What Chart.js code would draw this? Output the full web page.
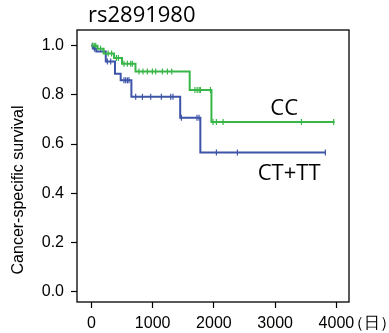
<!DOCTYPE html>
<html><head><meta charset="utf-8">
<script src="https://cdn.jsdelivr.net/npm/chart.js@4"></script>
<style>html,body{margin:0;padding:0;background:#fff}#wrap{width:389px;height:333px}</style>
</head><body><div id="wrap"><canvas id="c" width="389" height="333"></canvas></div>
<script>
const title = "rs2891980";
const yTitle = "Cancer-specific survival";
const xUnit = "（日）";
const xTicks = [0, 1000, 2000, 3000, 4000];
const yTicks = [0.0, 0.2, 0.4, 0.6, 0.8, 1.0];

const ccLabel = "CC";
const ccTimes = [0, 100, 200, 370, 500, 720, 1605, 1960, 3970];
const ccSurv  = [1.0, 0.988, 0.968, 0.950, 0.927, 0.895, 0.820, 0.690, 0.690];
const ccCensor = [20, 45, 70, 150, 274, 330, 408, 441, 532, 588, 642, 669, 777, 842, 914, 996, 1050, 1159, 1241, 1311, 1690, 1727, 1760, 1780, 1943, 1986, 2041, 2150, 3429, 3956];

const ctLabel = "CT+TT";
const ctTimes = [0, 30, 80, 235, 385, 478, 653, 1450, 1779, 3820];
const ctSurv  = [1.0, 0.988, 0.977, 0.936, 0.886, 0.859, 0.792, 0.707, 0.565, 0.565];
const ctCensor = [15, 50, 261, 315, 532, 560, 588, 614, 723, 833, 968, 1143, 1295, 1332, 1469, 1724, 1757, 2041, 2384, 3820];

const green = "rgb(56,182,72)";
const blue = "rgb(62,84,168)";

function stepAt(times, surv, t){ let s = surv[0]; for (let i=0;i<times.length;i++){ if (times[i] <= t) s = surv[i]; } return s; }
const pts = (ts, ss) => ts.map((t,i)=>({x:t, y:ss[i]}));
const cens = (cs, ts, ss) => cs.map(t=>({x:t, y:stepAt(ts, ss, t)}));

const deco = {
  id: 'deco',
  afterDraw(chart){
    const {ctx, chartArea:a, scales:{x, y}} = chart;
    ctx.save();
    ctx.strokeStyle = '#000'; ctx.lineWidth = 1.3;
    ctx.strokeRect(a.left, a.top, a.right - a.left, a.bottom - a.top);
    ctx.fillStyle = '#000';
    ctx.textBaseline = 'middle';
    ctx.textAlign = 'center';
    ctx.font = '22px "Open Sans"';
    ctx.fillText(ccLabel, x.getPixelForValue(3148), y.getPixelForValue(0.745));
    ctx.fillText(ctLabel, x.getPixelForValue(3229), y.getPixelForValue(0.481));
    ctx.textAlign = 'left';
    ctx.font = '22px "Open Sans"';
    ctx.fillText(title, 88, 16);
    ctx.font = '16px "Liberation Sans"';
    ctx.fillText(xUnit, x.getPixelForValue(4000) + 12, 324);
    ctx.translate(19, 190);
    ctx.rotate(-Math.PI/2);
    ctx.textAlign = 'center';
    ctx.font = '16px "Liberation Sans"';
    ctx.fillText(yTitle, 0, 0);
    ctx.restore();
  }
};

new Chart(document.getElementById('c'), {
  type: 'line',
  data: {
    datasets: [
      {label: ccLabel, data: pts(ccTimes, ccSurv), borderColor: green, borderWidth: 2, stepped: true, pointRadius: 0, fill: false},
      {label: ctLabel, data: pts(ctTimes, ctSurv), borderColor: blue, borderWidth: 2, stepped: true, pointRadius: 0, fill: false},
      {type: 'scatter', data: cens(ccCensor, ccTimes, ccSurv), pointStyle: 'line', rotation: 90, pointRadius: 3, borderColor: green, borderWidth: 1.2, showLine: false},
      {type: 'scatter', data: cens(ctCensor, ctTimes, ctSurv), pointStyle: 'line', rotation: 90, pointRadius: 3, borderColor: blue, borderWidth: 1.2, showLine: false}
    ]
  },
  options: {
    responsive: false, animation: false, devicePixelRatio: 1,
    layout: {padding: {top: 30, right: 40, left: 0, bottom: 0}},
    plugins: {legend: {display: false}, tooltip: {enabled: false}, title: {display: false}},
    scales: {
      x: {
        type: 'linear', min: -235, max: 4206,
        afterBuildTicks: ax => { ax.ticks = xTicks.map(v=>({value:v})); },
        afterFit: s => { s.height = 31; },
        grid: {drawOnChartArea: false, tickLength: 6, tickColor: '#000', tickWidth: 1.2},
        border: {display: false},
        ticks: {color: '#000', font: {family: 'Liberation Sans', size: 16}, padding: 6, maxRotation: 0, autoSkip: false, callback: v => String(v)}
      },
      y: {
        type: 'linear', min: -0.043, max: 1.064,
        afterBuildTicks: ax => { ax.ticks = yTicks.map(v=>({value:v})); },
        afterFit: s => { s.width = 77; },
        grid: {drawOnChartArea: false, tickLength: 6, tickColor: '#000', tickWidth: 1.2},
        border: {display: false},
        ticks: {color: '#000', font: {family: 'Liberation Sans', size: 16}, padding: 7, callback: v => v.toFixed(1)}
      }
    }
  },
  plugins: [deco]
});
</script></body></html>
